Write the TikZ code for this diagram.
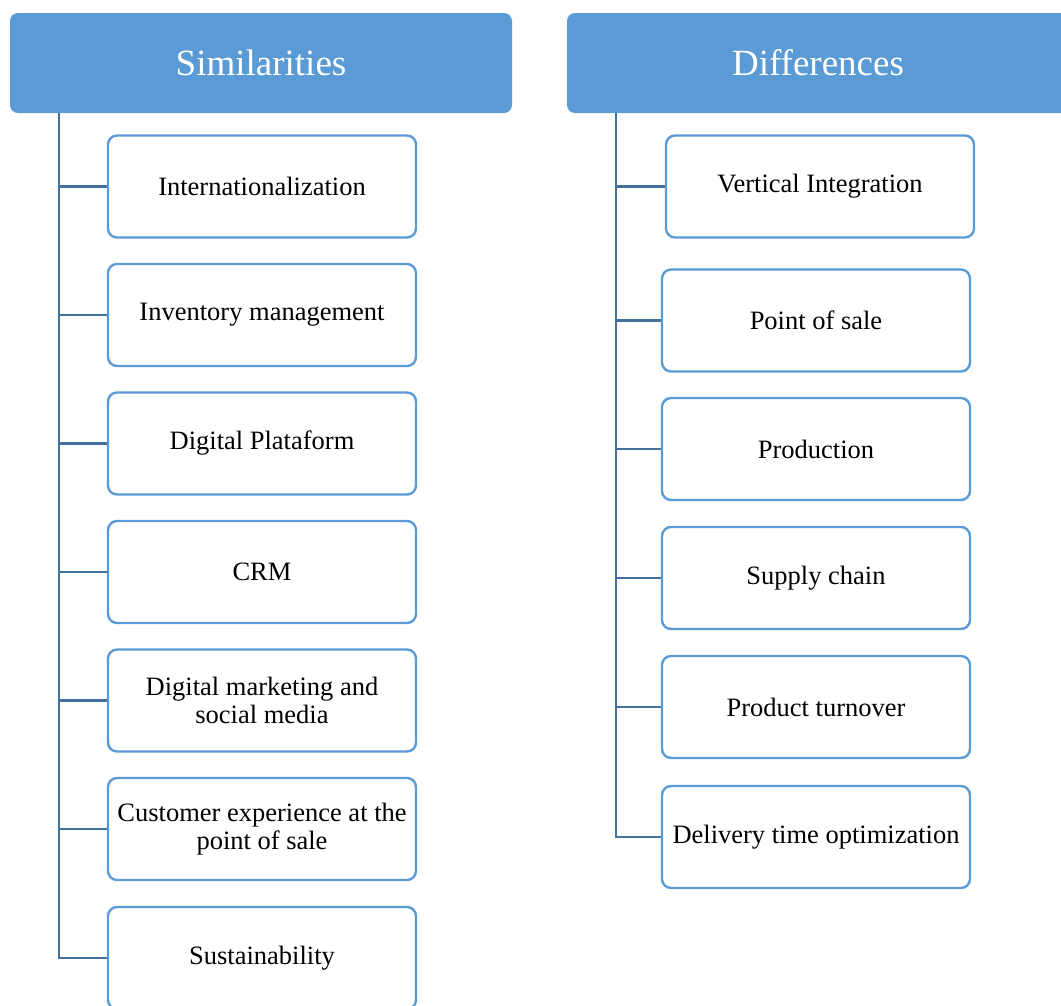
\documentclass[tikz,border=0pt]{standalone}
\usepackage{fontspec}
\setmainfont{Liberation Serif}
\definecolor{hdrblue}{HTML}{5B9BD5}
\definecolor{boxblue}{HTML}{5B9BD5}
\definecolor{lineblue}{HTML}{41719C}
\begin{document}
\begin{tikzpicture}[x=1pt,y=-1pt,
  header/.style={fill=hdrblue,draw=none,rounded corners=8pt,minimum width=502pt,minimum height=100pt,inner sep=0pt,text=white,font=\fontsize{37}{42}\selectfont},
  itembox/.style={draw=boxblue,line width=2.4pt,fill=white,rounded corners=9pt,minimum width=308pt,minimum height=102pt,inner sep=2pt,align=center,font=\fontsize{26.5}{28}\selectfont},
  spine/.style={draw=lineblue,line width=2.6pt}]
\useasboundingbox (0,0) rectangle (1061,1005);
\clip (0,0) rectangle (1061,1005);
% headers
\node[header] (hL) at (261,63) {Similarities};
\node[header] (hR) at (818,63) {Differences};
\coordinate (sL) at (59,113);
\coordinate (sR) at (616,113);
% left boxes
\node[itembox] (l1) at (262,186.5) {Internationalization};
\node[itembox] (l2) at (262,315) {Inventory management};
\node[itembox] (l3) at (262,443.5) {Digital Plataform};
\node[itembox] (l4) at (262,572) {CRM};
\node[itembox] (l5) at (262,700.5) {Digital marketing and\\ social media};
\node[itembox] (l6) at (262,829) {Customer experience at the\\ point of sale};
\node[itembox] (l7) at (262,958) {Sustainability};
% right boxes
\node[itembox] (r1) at (820,186.5) {Vertical Integration};
\node[itembox] (r2) at (816,320.5) {Point of sale};
\node[itembox] (r3) at (816,449) {Production};
\node[itembox] (r4) at (816,578) {Supply chain};
\node[itembox] (r5) at (816,707) {Product turnover};
\node[itembox] (r6) at (816,837) {Delivery time optimization};
% connectors
\draw[spine] (sL) |- (l7.west);
\foreach \n in {l1,l2,l3,l4,l5,l6} \draw[spine] (sL |- \n.west) -- (\n.west);
\draw[spine] (sR) |- (r6.west);
\foreach \n in {r1,r2,r3,r4,r5} \draw[spine] (sR |- \n.west) -- (\n.west);
\end{tikzpicture}
\end{document}
